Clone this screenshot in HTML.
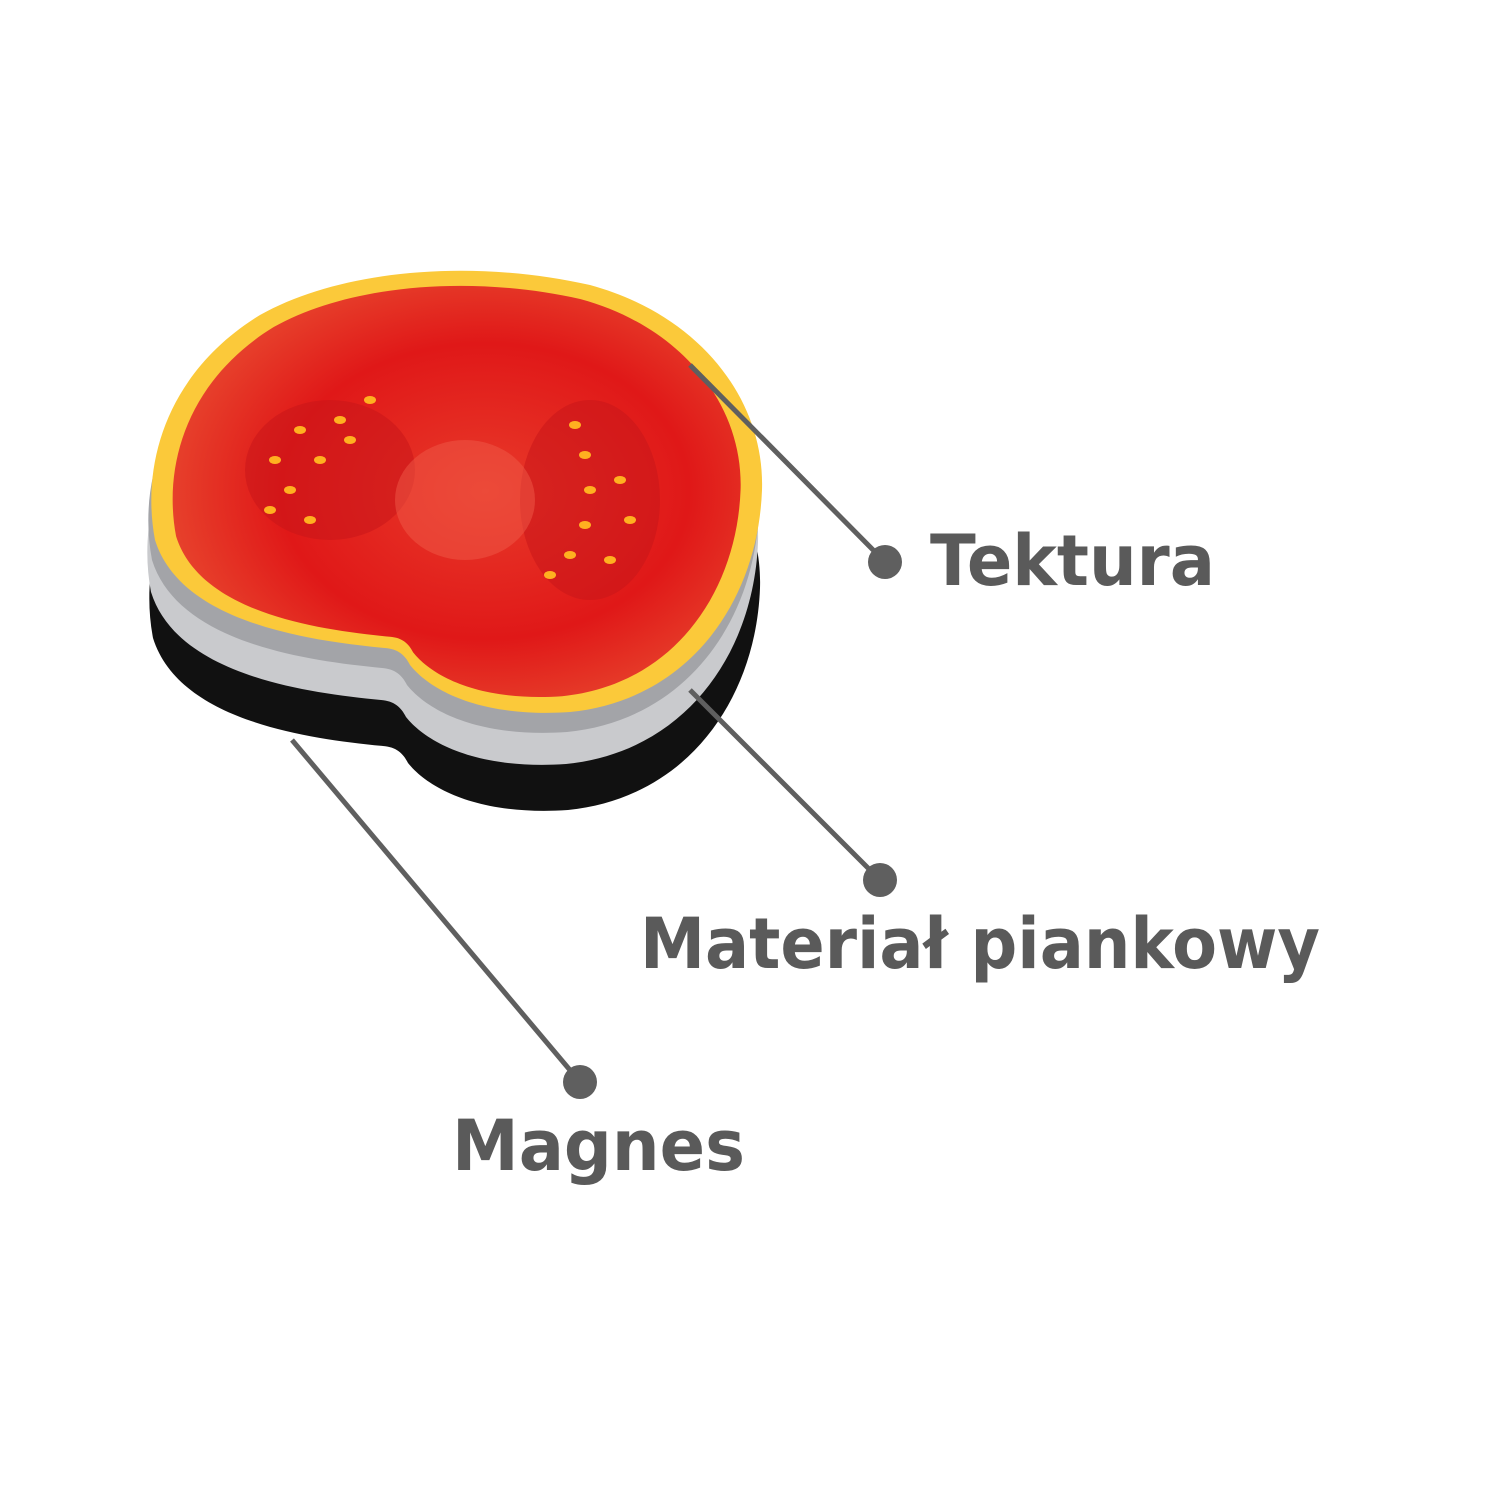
<!DOCTYPE html>
<html><head><meta charset="utf-8"><style>
html,body{margin:0;padding:0;background:#fff}
svg{display:block}
text{font-family:"DejaVu Sans","Liberation Sans",sans-serif;font-weight:bold;fill:#5a5a5a}
</style></head><body>
<svg width="1500" height="1500" viewBox="0 0 1500 1500" xmlns="http://www.w3.org/2000/svg">
<defs>
<path id="sh" d="M385,648 C300,640 180,620 155,540 C140,460 170,370 260,315 C340,270 470,258 590,285 C700,315 765,400 762,490 C758,600 690,700 570,712 C480,718 430,690 410,665 C405,655 398,649 385,648 Z"/>
<radialGradient id="rg" cx="0.55" cy="0.5" r="0.6">
<stop offset="0" stop-color="#e83a2a"/><stop offset="0.6" stop-color="#e01818"/><stop offset="1" stop-color="#e84a30"/>
</radialGradient>
</defs>
<use href="#sh" transform="translate(-2,98)" fill="#111"/>
<use href="#sh" transform="translate(-4,52)" fill="#c9cacd"/>
<use href="#sh" transform="translate(-3,20)" fill="#a3a4a8"/>
<use href="#sh" fill="#fbc93a"/>
<use href="#sh" transform="translate(456,487) scale(0.93) translate(-456,-487)" fill="url(#rg)"/>
<ellipse cx="330" cy="470" rx="85" ry="70" fill="#c9161a" opacity="0.55"/>
<ellipse cx="590" cy="500" rx="70" ry="100" fill="#c9161a" opacity="0.55"/>
<ellipse cx="465" cy="500" rx="70" ry="60" fill="#ef5a48" opacity="0.5"/>
<g fill="#ffb020">
<ellipse cx="300" cy="430" rx="6" ry="4"/><ellipse cx="320" cy="460" rx="6" ry="4"/><ellipse cx="290" cy="490" rx="6" ry="4"/><ellipse cx="310" cy="520" rx="6" ry="4"/><ellipse cx="340" cy="420" rx="6" ry="4"/><ellipse cx="370" cy="400" rx="6" ry="4"/><ellipse cx="350" cy="440" rx="6" ry="4"/><ellipse cx="275" cy="460" rx="6" ry="4"/><ellipse cx="270" cy="510" rx="6" ry="4"/>
<ellipse cx="575" cy="425" rx="6" ry="4"/><ellipse cx="585" cy="455" rx="6" ry="4"/><ellipse cx="590" cy="490" rx="6" ry="4"/><ellipse cx="585" cy="525" rx="6" ry="4"/><ellipse cx="570" cy="555" rx="6" ry="4"/><ellipse cx="550" cy="575" rx="6" ry="4"/><ellipse cx="620" cy="480" rx="6" ry="4"/><ellipse cx="630" cy="520" rx="6" ry="4"/><ellipse cx="610" cy="560" rx="6" ry="4"/>
</g>
<g stroke="#5f5f5f" stroke-width="5" fill="#5f5f5f">
<line x1="690" y1="365" x2="885" y2="562"/><circle cx="885" cy="562" r="17" stroke="none"/>
<line x1="690" y1="690" x2="880" y2="880"/><circle cx="880" cy="880" r="17" stroke="none"/>
<line x1="292" y1="740" x2="580" y2="1082"/><circle cx="580" cy="1082" r="17" stroke="none"/>
</g>
<text x="930" y="585" font-size="70" textLength="285" lengthAdjust="spacingAndGlyphs">Tektura</text>
<text x="640" y="968" font-size="70" textLength="680" lengthAdjust="spacingAndGlyphs">Materiał piankowy</text>
<text x="452" y="1170" font-size="70" textLength="293" lengthAdjust="spacingAndGlyphs">Magnes</text>
</svg>
</body></html>
